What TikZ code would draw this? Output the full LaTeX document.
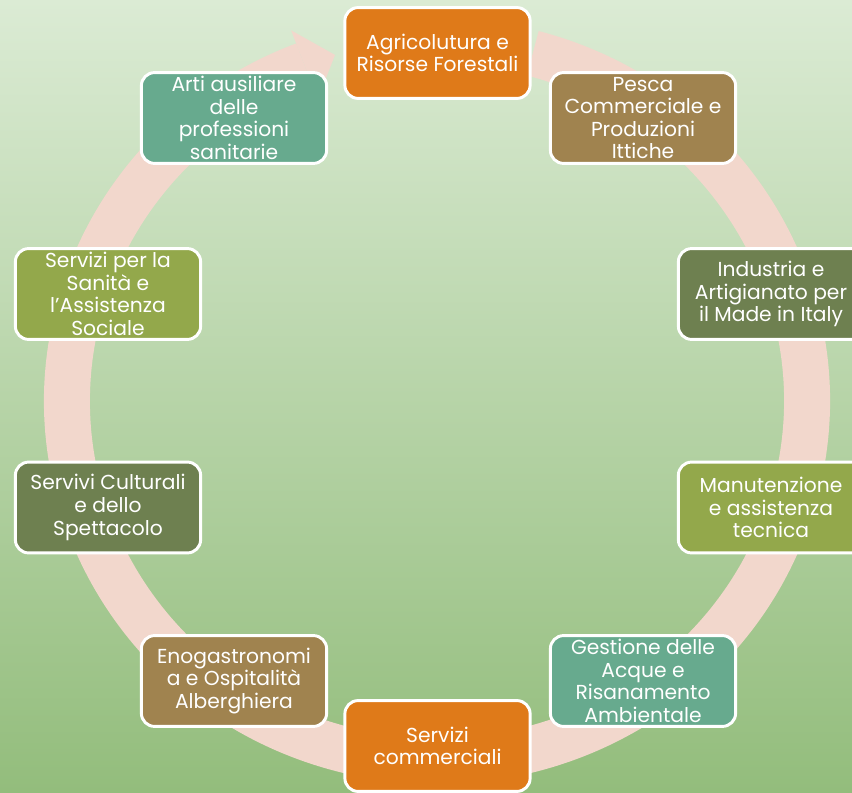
\documentclass[tikz,border=0pt]{standalone}
\usepackage{fontspec}
\setmainfont{Poppins}

\definecolor{bgtop}{RGB}{219,235,212}
\definecolor{bgbot}{RGB}{147,189,124}
\definecolor{ringc}{RGB}{242,215,204}
\definecolor{orangec}{RGB}{223,122,25}
\definecolor{brownc}{RGB}{160,131,79}
\definecolor{olivec}{RGB}{110,128,80}
\definecolor{limec}{RGB}{147,168,75}
\definecolor{tealc}{RGB}{103,170,142}

\begin{document}
\begin{tikzpicture}[x=0.025cm,y=0.025cm,
    box/.style={rounded corners=0.33cm, draw=white, line width=2.1pt,
      minimum width=4.63cm, minimum height=2.27cm, inner sep=0pt,
      text=white, align=center, font=\fontsize{14.4}{16.1}\selectfont}]
  \useasboundingbox (0,0) rectangle (852,792);
  \clip (0,0) rectangle (852,792);
  \shade[top color=bgtop, bottom color=bgbot] (0,0) rectangle (852,792);

  % circular arrow
  \coordinate (c) at (437,391);
  \draw[ringc, line width=32.7pt] (c) ++(75:370 and 360)
    arc[start angle=75, end angle=-249, x radius=370, y radius=360];
  \fill[ringc] ([shift={(111:407 and 397)}]c) -- ([shift={(106:370 and 360)}]c)
    -- ([shift={(111:333 and 323)}]c) -- cycle;

  \node (1) [box, fill=orangec] at (437.5,739) {Agricolutura e\\Risorse Forestali};
  \node (2) [box, fill=brownc] at (643,674) {Pesca\\Commerciale e\\Produzioni\\Ittiche};
  \node (3) [box, fill=olivec] at (771,498) {Industria e\\Artigianato per\\il Made in Italy};
  \node (4) [box, fill=limec] at (771,284.5) {Manutenzione\\e assistenza\\tecnica};
  \node (5) [box, fill=tealc] at (643,111) {Gestione delle\\Acque e\\Risanamento\\Ambientale};
  \node (6) [box, fill=orangec] at (437.5,46) {Servizi\\commerciali};
  \node (7) [box, fill=brownc] at (234,111) {Enogastronomi\\a e Ospitalità\\Alberghiera};
  \node (8) [box, fill=olivec] at (108,284.5) {Servivi Culturali\\e dello\\Spettacolo};
  \node (9) [box, fill=limec] at (108,498) {Servizi per la\\Sanità e\\l’Assistenza\\Sociale};
  \node (10) [box, fill=tealc] at (234,674) {Arti ausiliare\\delle\\professioni\\sanitarie};
\end{tikzpicture}
\end{document}
